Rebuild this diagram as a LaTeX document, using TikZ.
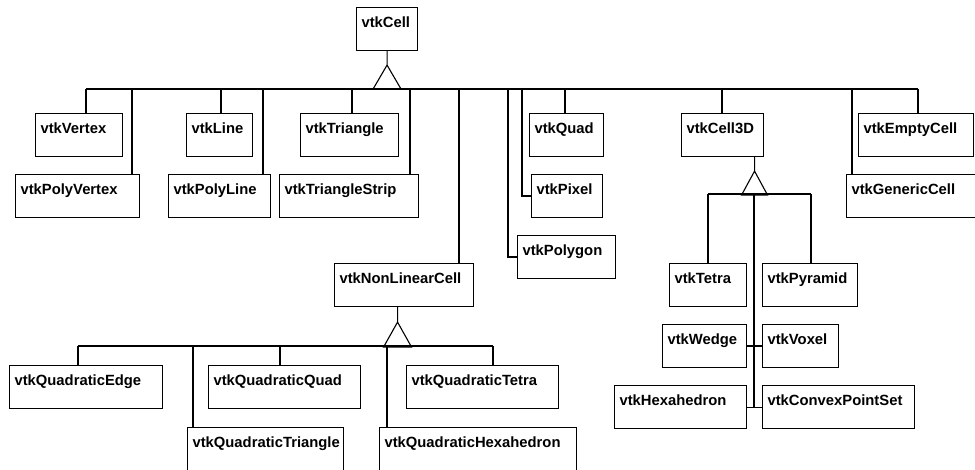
\documentclass[tikz,border=0pt]{standalone}
\usepackage{fontspec}
\setmainfont{Liberation Sans}
\usepackage{tikz}
\usetikzlibrary{positioning}
\tikzset{
  cls/.style={draw, anchor=north west, align=left,
    font=\fontsize{14.8}{17}\selectfont\bfseries,
    inner xsep=5pt, inner ysep=0pt, text width=#1pt-10pt,
    text height=20pt, text depth=23pt},
  tall/.style={text depth=50pt}
}

\begin{document}
\begin{tikzpicture}[x=1pt, y=-1pt, line width=1.1pt]
  \useasboundingbox (0,0) rectangle (975,470);
  % root and its direct subclasses
  \node[cls=61] (vtkCell) at (356,7) {vtkCell};
  \node[cls=87] (vtkVertex) at (35,113) {vtkVertex};
  \node[cls=124] (vtkPolyVertex) at (15,174) {vtkPolyVertex};
  \node[cls=66] (vtkLine) at (186,113) {vtkLine};
  \node[cls=102] (vtkPolyLine) at (168,174) {vtkPolyLine};
  \node[cls=98] (vtkTriangle) at (300,113) {vtkTriangle};
  \node[cls=139] (vtkTriangleStrip) at (279,174) {vtkTriangleStrip};
  \node[cls=139] (vtkNonLinearCell) at (334,263) {vtkNonLinearCell};
  \node[cls=74] (vtkQuad) at (529,113) {vtkQuad};
  \node[cls=71] (vtkPixel) at (531,174) {vtkPixel};
  \node[cls=98] (vtkPolygon) at (517,235) {vtkPolygon};
  \node[cls=82] (vtkCell3D) at (681,113) {vtkCell3D};
  \node[cls=115] (vtkEmptyCell) at (858,113) {vtkEmptyCell};
  \node[cls=144] (vtkGenericCell) at (846,174) {vtkGenericCell};
  % 3D cells
  \node[cls=77] (vtkTetra) at (669,263) {vtkTetra};
  \node[cls=95] (vtkPyramid) at (762,263) {vtkPyramid};
  \node[cls=84] (vtkWedge) at (662,324) {vtkWedge};
  \node[cls=76] (vtkVoxel) at (762,324) {vtkVoxel};
  \node[cls=132] (vtkHexahedron) at (614,385) {vtkHexahedron};
  \node[cls=152] (vtkConvexPointSet) at (762,385) {vtkConvexPointSet};
  % quadratic cells
  \node[cls=153] (vtkQuadraticEdge) at (9,365) {vtkQuadraticEdge};
  \node[cls=152] (vtkQuadraticQuad) at (208,365) {vtkQuadraticQuad};
  \node[cls=152] (vtkQuadraticTetra) at (406,365) {vtkQuadraticTetra};
  \node[cls=156, tall] (vtkQuadraticTriangle) at (187,427) {vtkQuadraticTriangle};
  \node[cls=197, tall] (vtkQuadraticHexahedron) at (379,427) {vtkQuadraticHexahedron};

  % inheritance from vtkCell
  \draw (vtkCell.south) -- ++(0,14) -- ++(-14,24) -- ++(28,0) -- ++(-14,-24);
  \draw (86,89) -- (918,89);
  \foreach \n/\x in {vtkVertex/86, vtkPolyVertex/132, vtkLine/221, vtkPolyLine/263,
      vtkTriangle/352, vtkTriangleStrip/410, vtkNonLinearCell/459, vtkQuad/565,
      vtkCell3D/722, vtkGenericCell/852, vtkEmptyCell/918}
    \draw (\x,89) -- (\x,89 |- \n.north);
  \draw (508,89) |- (vtkPolygon.west);
  \draw (522,89) |- (vtkPixel.west);

  % inheritance from vtkCell3D
  \draw ([xshift=32pt]vtkCell3D.south) -- ++(0,14) -- ++(-13,24) -- ++(26,0) -- ++(-13,-24);
  \draw (708,194) -- (811,194);
  \foreach \n/\x in {vtkTetra/708, vtkPyramid/811}
    \draw (\x,194) -- (\x,194 |- \n.north);
  \draw (754,194) -- (754,194 |- vtkHexahedron.east);
  \draw (vtkWedge.east) -- (vtkVoxel.west);
  \draw (vtkHexahedron.east) -- (vtkConvexPointSet.west);

  % inheritance from vtkNonLinearCell
  \draw ([xshift=-6.5pt]vtkNonLinearCell.south) -- ++(0,15) -- ++(-14,25) -- ++(28,0) -- ++(-14,-25);
  \draw (78,346) -- (493,346);
  \foreach \n/\x in {vtkQuadraticEdge/78, vtkQuadraticTriangle/193, vtkQuadraticQuad/280,
      vtkQuadraticHexahedron/387, vtkQuadraticTetra/493}
    \draw (\x,346) -- (\x,346 |- \n.north);
\end{tikzpicture}
\end{document}
